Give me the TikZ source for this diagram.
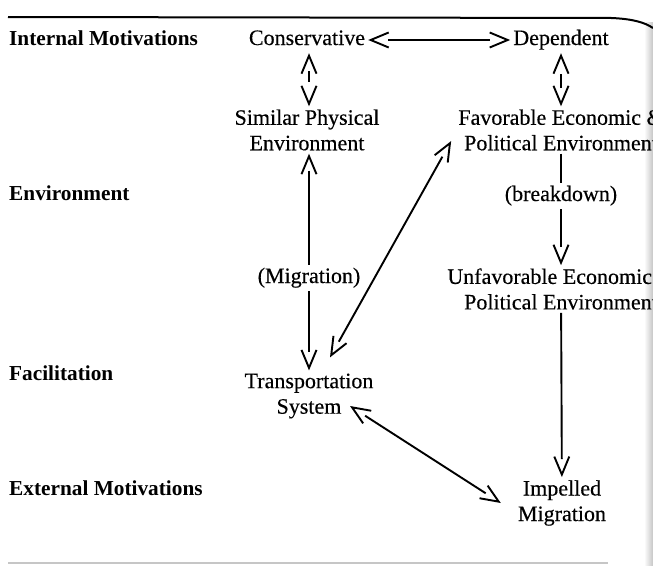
\documentclass[tikz,border=0pt]{standalone}
\usepackage{fontspec}
\setmainfont{Liberation Serif}
\newfontfamily\regfont{Liberation Serif}[FakeBold=0.35]
\usetikzlibrary{arrows.meta,decorations.markings,calc}
\begin{document}
\begin{tikzpicture}[x=1pt,y=-1pt,
  every node/.style={inner sep=3pt, font=\regfont\fontsize{22}{25.5}\selectfont},
  lbl/.style={anchor=west, inner sep=0pt, font=\fontsize{21.3}{25}\selectfont\bfseries, text height=15pt, text depth=5pt},
  box/.style={align=center},
  one/.style={text height=15pt, text depth=5pt},
  conn/.style={line width=1.9pt},
  chev/.tip={Straight Barb[length=18pt,width=15pt]},
  tipE/.style={postaction={decorate,decoration={markings,mark=at position 1 with {\arrow{chev}}}}},
  tipS/.style={postaction={decorate,decoration={markings,mark=at position 0 with {\arrowreversed{chev}}}}}
]
\useasboundingbox (0,0) rectangle (653,565);
\clip (0,0) rectangle (653,565);
\fill[white] (0,0) rectangle (653,565);
% page edge and rules
\shade[left color=white, right color=gray!45] (644,22) rectangle (653,565);
\draw[line width=2pt] (8,17) -- (612,18) .. controls (632,19) and (644,22) .. (653,28);
\draw[gray!45, line width=1.5pt] (8,563) -- (608,563);

% row labels
\node[lbl] (im) at (9,40) {Internal Motivations};
\node[lbl] (en) at (9,195) {Environment};
\node[lbl] (fa) at (9,375) {Facilitation};
\node[lbl] (ex) at (9,490) {External Motivations};

% nodes
\node[one] (cons) at (307,40) {Conservative};
\node[one] (dep) at (561,40) {Dependent};
\node[box] (sim) at (307,130) {Similar Physical\\Environment};
\node[box] (fav) at (561,130) {Favorable Economic \&\\Political Environment};
\node[one] (brk) at (561,196) {(breakdown)};
\node[one] (mig) at (309,278) {(Migration)};
\node[box] (unf) at (561,289) {Unfavorable Economic \&\\Political Environment};
\node[box] (trans) at (309,396) {Transportation\\System};
\node[box] (imp) at (562,503) {Impelled\\Migration};

% connectors
\draw[conn, tipS, tipE, shorten <=20pt, shorten >=20pt] (cons) -- (dep);
\draw[conn, tipS, tipE, shorten <=18pt, shorten >=24pt] ([xshift=2pt]cons.south) -- ([xshift=2pt]sim.north);
\draw[conn, tipS, tipE, shorten <=21pt, shorten >=18pt] (dep) -- (fav);
\draw[conn, tipS, shorten <=17pt] ([xshift=2pt]sim.south) -- (mig);
\draw[conn, tipE, shorten >=18pt] (mig) -- (trans);
\draw[conn] (fav) -- (brk);
\draw[conn, tipE, shorten >=18pt] (brk) -- (unf);
\draw[conn, tipE, shorten >=18pt] (unf) -- (imp);

\coordinate (tsN) at ($(trans.north)+(21,-13)$);
\coordinate (favW) at ($(fav.west)+(-4,11)$);
\coordinate (tsE) at ($(trans.center)+(41,10)$);
\coordinate (impW) at ($(imp.west)+(-14,0)$);
\draw[conn, tipS, tipE, shorten <=18pt, shorten >=18pt] (tsN) -- (favW);
\draw[conn, tipS, tipE, shorten <=18pt, shorten >=18pt] (tsE) -- (impW);
\end{tikzpicture}
\end{document}
